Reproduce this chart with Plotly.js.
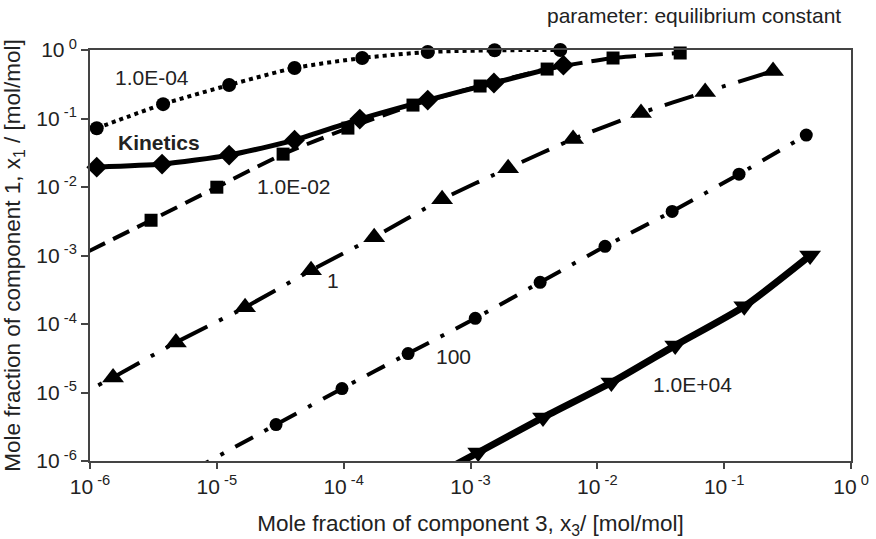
<!DOCTYPE html>
<html>
<head>
<meta charset="utf-8">
<script src="https://cdn.plot.ly/plotly-3.0.1.min.js"></script>
<style>html,body{margin:0;padding:0;background:#fff;}#chart{width:876px;height:539px;}</style>
</head>
<body>
<div id="chart"></div>
<script>
// Mole fraction of component 3 (x) and component 1 (y) for each equilibrium constant
var xK1em4 = [1.13e-6, 3.77e-6, 1.25e-5, 4.1e-5, 1.4e-4, 4.6e-4, 1.55e-3, 5.1e-3];
var yK1em4 = [0.072, 0.162, 0.308, 0.546, 0.764, 0.935, 0.99, 1.0];

var xKin = [1.13e-6, 3.7e-6, 1.25e-5, 4.1e-5, 1.34e-4, 4.6e-4, 1.53e-3, 5.4e-3];
var yKin = [0.0195, 0.0216, 0.0292, 0.0483, 0.098, 0.186, 0.33, 0.60];

var xK1em2 = [6.3e-7, 3.03e-6, 1.0e-5, 3.33e-5, 1.08e-4, 3.52e-4, 1.19e-3, 4.02e-3, 1.33e-2, 4.5e-2];
var yK1em2 = [7.7e-4, 3.27e-3, 9.93e-3, 0.0302, 0.0724, 0.157, 0.298, 0.527, 0.764, 0.904];

var xK1 = [4.4e-7, 1.52e-6, 4.76e-6, 1.67e-5, 5.53e-5, 1.74e-4, 5.97e-4, 1.98e-3, 6.44e-3, 2.21e-2, 7.08e-2, 0.243];
var yK1 = [5.1e-6, 1.66e-5, 5.38e-5, 1.75e-4, 6.08e-4, 1.85e-3, 6.63e-3, 0.0188, 0.050, 0.12, 0.243, 0.493];

var xK100 = [6.3e-6, 2.93e-5, 9.7e-5, 3.22e-4, 1.09e-3, 3.54e-3, 1.15e-2, 3.89e-2, 0.131, 0.444];
var yK100 = [7.2e-7, 3.4e-6, 1.14e-5, 3.7e-5, 1.21e-4, 4.06e-4, 1.36e-3, 4.4e-3, 0.0154, 0.0572];

var xK1e4 = [5.0e-4, 1.15e-3, 3.73e-3, 1.29e-2, 4.11e-2, 0.144, 0.476];
var yK1e4 = [5.8e-7, 1.33e-6, 4.31e-6, 1.4e-5, 4.87e-5, 1.81e-4, 1.0e-3];

var tickVals = [1e-6, 1e-5, 1e-4, 1e-3, 1e-2, 1e-1, 1];
var tickText = ['10<sup> -6</sup>', '10<sup> -5</sup>', '10<sup> -4</sup>', '10<sup> -3</sup>', '10<sup> -2</sup>', '10<sup> -1</sup>', '10<sup> 0</sup>'];

var seriesLabels = ['1.0E-04', 'Kinetics', '1.0E-02', '1', '100', '1.0E+04'];

function vis(xs, ys) {
  return xs.map(function (x, i) { return (x < 1e-6 || ys[i] < 1e-6) ? 0 : 1; });
}
function mk(name, xs, ys, symbol, size, width, dash) {
  return {
    type: 'scatter', mode: 'lines+markers', name: name, x: xs, y: ys,
    cliponaxis: false,
    line: {color: '#000', width: width, dash: dash, shape: 'spline', smoothing: 0.6},
    marker: {color: '#000', symbol: symbol, size: size, opacity: vis(xs, ys), line: {width: 0}}
  };
}

var data = [
  mk(seriesLabels[0], xK1em4, yK1em4, 'circle', 14, 4, '4px,4px'),
  mk(seriesLabels[2], xK1em2, yK1em2, 'square', 13, 4, '18px,9px'),
  mk(seriesLabels[3], xK1, yK1, 'triangle-up', 19, 4, '30px,13px,4px,13px,4px,13px'),
  mk(seriesLabels[4], xK100, yK100, 'circle', 13, 4, '20px,13px,4px,13px'),
  mk(seriesLabels[5], xK1e4, yK1e4, 'triangle-down', 19, 7, 'solid'),
  mk(seriesLabels[1], xKin, yKin, 'diamond', 16, 5, 'solid')
];

var fam = 'Liberation Sans, Arial, sans-serif';
var txtFont = {family: fam, size: 21, color: '#222'};
function ann(text, x, y, bold, extra) {
  var a = {text: bold ? '<b>' + text + '</b>' : text, xref: 'paper', yref: 'paper', x: x, y: y,
           showarrow: false, xanchor: 'center', yanchor: 'middle', font: txtFont};
  if (extra) for (var k in extra) a[k] = extra[k];
  return a;
}

var layout = {
  width: 876, height: 539,
  margin: {l: 90, r: 25, t: 50, b: 78},
  paper_bgcolor: '#fff', plot_bgcolor: '#fff',
  showlegend: false,
  font: txtFont,
  xaxis: {
    type: 'log', range: [-6, 0], tickvals: tickVals, ticktext: tickText,
    showgrid: false, zeroline: false, showline: true, mirror: true,
    linecolor: '#444', linewidth: 2, ticks: 'outside', ticklen: 6, tickwidth: 2, tickcolor: '#444',
    tickfont: txtFont,
    title: {text: 'Mole fraction of component 3, x<sub>3</sub>/ [mol/mol]', font: {family: fam, size: 22.5, color: '#222'}, standoff: 18}
  },
  yaxis: {
    type: 'log', range: [-6, 0], tickvals: tickVals, ticktext: tickText,
    showgrid: false, zeroline: false, showline: true, mirror: true,
    linecolor: '#444', linewidth: 2, ticks: 'outside', ticklen: 7, tickwidth: 2, tickcolor: '#444',
    tickfont: txtFont,
    title: {text: 'Mole fraction of component 1, x<sub>1</sub> / [mol/mol]', font: {family: fam, size: 22.5, color: '#222'}, standoff: 10}
  },
  annotations: [
    ann('parameter: equilibrium constant', 0.9895, 1.085, false, {xanchor: 'right'}),
    ann(seriesLabels[0], 0.0815, 0.934),
    ann(seriesLabels[1], 0.0907, 0.774, true),
    ann(seriesLabels[2], 0.268, 0.667),
    ann(seriesLabels[3], 0.319, 0.438),
    ann(seriesLabels[4], 0.478, 0.255),
    ann(seriesLabels[5], 0.792, 0.185)
  ]
};

Plotly.newPlot('chart', data, layout, {displayModeBar: false, staticPlot: true});
</script>
</body>
</html>
